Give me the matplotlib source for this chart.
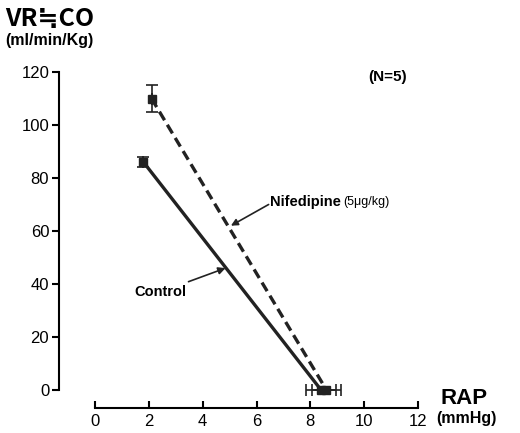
import matplotlib.pyplot as plt

# valeurs
rap_control = [1.8, 8.4]
vr_control = [86, 0]
rap_err_control = [0.0, 0.55]
vr_err_control = [2, 0]

rap_nif = [2.1, 8.6]
vr_nif = [110, 0]
rap_err_nif = [0.0, 0.55]
vr_err_nif = [5, 0]

xticks = [0, 2, 4, 6, 8, 10, 12]
yticks = [0, 20, 40, 60, 80, 100, 120]

plt.rcParams['font.family'] = ['Liberation Sans', 'DejaVu Sans']

fig = plt.figure(figsize=(5.2, 4.33), dpi=100)
ax = fig.add_axes([95 / 520, 43 / 433, 323 / 520, 318 / 433])

ax.errorbar(rap_control, vr_control, xerr=rap_err_control, yerr=vr_err_control,
            color="#222222", lw=2.4, marker="s", ms=6, capsize=4, elinewidth=1.2,
            capthick=1.2, clip_on=False)
ax.errorbar(rap_nif, vr_nif, xerr=rap_err_nif, yerr=vr_err_nif,
            color="#222222", lw=2.4, ls=(0, (3, 1.6)), marker="s", ms=6, capsize=4,
            elinewidth=1.2, capthick=1.2, clip_on=False)

ax.set_xlim(0, 12)
ax.set_ylim(0, 120)
ax.set_xticks(xticks)
ax.set_yticks(yticks)
ax.spines["top"].set_visible(False)
ax.spines["right"].set_visible(False)
ax.spines["left"].set_position(("outward", 26))
ax.spines["bottom"].set_position(("outward", 13))
ax.spines["left"].set_linewidth(1.5)
ax.spines["bottom"].set_linewidth(1.5)
ax.tick_params(axis="y", direction="out", length=5, width=1.5, labelsize=12, pad=2)
ax.tick_params(axis="x", direction="in", length=5, width=1.5, labelsize=12, pad=4)

# annotations
ax.text(11.6, 118, "(N=5)", ha="right", va="center", fontsize=11, fontweight="bold")
nif = ax.text(6.5, 71, "Nifedipine", fontsize=10.5, fontweight="bold",
              va="center", ha="left")
ax.annotate("", xy=(5.05, 62), xytext=(6.45, 70),
            arrowprops=dict(arrowstyle="-|>", color="#222222", lw=1.2, shrinkA=0, shrinkB=0))
ax.annotate("(5μg/kg)", xy=(1, 0.5), xycoords=nif, xytext=(2, 0),
            textcoords="offset points", fontsize=9, va="center", ha="left")
ax.annotate("Control", xy=(4.85, 46), xytext=(3.4, 37), fontsize=10.5, fontweight="bold",
            va="center", ha="right",
            arrowprops=dict(arrowstyle="-|>", color="#222222", lw=1.2, shrinkA=1, shrinkB=0))

fig.text(5 / 520, 1 - 19 / 433, "VR≒CO", fontsize=18, fontweight="bold", va="center",
         family=["Noto Sans CJK JP", "DejaVu Sans"])
fig.text(5 / 520, 1 - 41 / 433, "(ml/min/Kg)", fontsize=11.5, fontweight="bold", va="center")
fig.text(440 / 520, 1 - 399 / 433, "RAP", fontsize=16, fontweight="bold", va="center")
fig.text(436 / 520, 1 - 419 / 433, "(mmHg)", fontsize=11.5, fontweight="bold", va="center")

fig.savefig("out.png", dpi=100)
